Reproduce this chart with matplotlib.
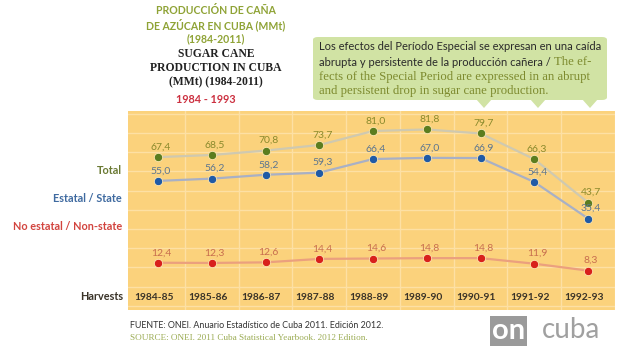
import matplotlib
matplotlib.use("Agg")
import matplotlib.pyplot as plt
from matplotlib.patches import FancyBboxPatch, Polygon
from matplotlib.text import Annotation
import numpy as np

# data (MMt)
harvests = ["1984-85", "1985-86", "1986-87", "1987-88", "1988-89",
            "1989-90", "1990-91", "1991-92", "1992-93"]
total = [67.4, 68.5, 70.8, 73.7, 81.0, 81.8, 79.7, 66.3, 43.7]
estatal = [55.0, 56.2, 58.2, 59.3, 66.4, 67.0, 66.9, 54.4, 35.4]
no_estatal = [12.4, 12.3, 12.6, 14.4, 14.6, 14.8, 14.8, 11.9, 8.3]

series_names = ["Total", "Estatal / State", "No estatal / Non-state"]

W, H = 620, 347
fig = plt.figure(figsize=(W / 100, H / 100), dpi=100)
fig.patch.set_facecolor("white")

sans = "Lato"
serif = "Liberation Serif"

# orange plot area (pixel box 128..615 x 111..310)
ax = fig.add_axes([128 / W, (H - 310) / H, (615 - 128) / W, (310 - 111) / H])
ax.set_facecolor("#fbd27c")
for s in ax.spines.values():
    s.set_visible(False)
ax.set_xlim(-0.56, 8.48)
ax.set_ylim(-12.2, 91.4)
ax.set_yticks(np.arange(-10, 91, 10))
ax.set_xticks(np.arange(len(harvests)) + 0.5)
ax.tick_params(length=0, labelleft=False, labelbottom=False)
ax.grid(True, color="#fde0a4", lw=1.0)
ax.set_axisbelow(True)

x = np.arange(len(harvests))

styles = [
    (total, "#cfc9b0", "#5b7d1f", "#8a8a2c"),
    (estatal, "#a8b0c6", "#1f5aa6", "#5d7690"),
    (no_estatal, "#eba07e", "#d8201c", "#c86e4e"),
]
for vals, lc, mc, tc in styles:
    ax.plot(x, vals, color=lc, lw=1.6, zorder=2)
    ax.plot(x, vals, "o", color=mc, ms=6, mec="#fde6b0", mew=0.6, zorder=3)
    for xi, v in zip(x, vals):
        ax.annotate(f"{v:.1f}".replace(".", ","), (xi, v), xytext=(2, 4),
                    textcoords="offset points", ha="center", va="bottom",
                    fontsize=7.5, color=tc, family=sans, zorder=4)

# category labels inside the orange band
for xi, lab in zip(x, harvests):
    ax.text(xi - 0.08, 0.065, lab, transform=ax.get_xaxis_transform(),
            ha="center", va="center", fontsize=7.4, fontweight="bold",
            color="#3a3328", family=sans)

# left-side labels
fig.text(123 / W, 1 - 297 / H, "Harvests", ha="right", va="center",
         fontsize=7.8, fontweight="bold", color="#3a3328", family=sans)
label_cols = ["#6b7a34", "#3f6aa0", "#d2443e"]
label_y = [171, 199, 227]
for name, c, yy in zip(series_names, label_cols, label_y):
    fig.text(122 / W, 1 - yy / H, name, ha="right", va="center",
             fontsize=7.8, fontweight="bold", color=c, family=sans)

# title
es_lines = ["PRODUCCIÓN DE CAÑA", "DE AZÚCAR EN CUBA (MMt)", "(1984-2011)"]
for i, t in enumerate(es_lines):
    fig.text(216 / W, 1 - (11 + 14 * i) / H, t, ha="center", va="center",
             fontsize=7.6, color="#8fa336", family=sans, fontweight="bold")
en_lines = ["SUGAR CANE", "PRODUCTION IN CUBA", "(MMt) (1984-2011)"]
for i, t in enumerate(en_lines):
    fig.text(216 / W, 1 - (54 + 14 * i) / H, t, ha="center", va="center",
             fontsize=8.4, color="#222222", family=serif, fontweight="bold")
fig.text(206 / W, 1 - 100 / H, "1984 - 1993", ha="center", va="center",
         fontsize=7.8, color="#cc3040", family=sans, fontweight="bold")

# callout box
box_col = "#d1e3a4"
box = FancyBboxPatch((313 / W, 1 - 100 / H), (607 - 313) / W, (100 - 37) / H,
                     boxstyle="round,pad=0,rounding_size=0.008",
                     transform=fig.transFigure, fc=box_col, ec="none")
fig.patches.append(box)
for tx in [484, 538, 590]:
    tri = Polygon([((tx - 8) / W, 1 - 99 / H), ((tx + 8) / W, 1 - 99 / H),
                   (tx / W, 1 - 108 / H)], closed=True,
                  transform=fig.transFigure, fc=box_col, ec="none")
    fig.patches.append(tri)

fig.text(319 / W, 1 - 47 / H,
         "Los efectos del Período Especial se expresan en una caída",
         ha="left", va="center", fontsize=8.0, color="#2a2a2a", family=sans)
t2 = fig.text(319 / W, 1 - 62 / H,
              "abrupta y persistente de la producción cañera / ",
              ha="left", va="center", fontsize=8.0, color="#2a2a2a", family=sans)
fig.add_artist(Annotation("The ef-", xy=(1, 0.5), xycoords=t2, va="center",
                          ha="left", fontsize=9.2, color="#7d8a2e",
                          family=serif))
fig.text(319 / W, 1 - 77 / H,
         "fects of the Special Period are expressed in an abrupt",
         ha="left", va="center", fontsize=9.2, color="#7d8a2e", family=serif)
fig.text(319 / W, 1 - 91 / H,
         "and persistent drop in sugar cane production.",
         ha="left", va="center", fontsize=9.2, color="#7d8a2e", family=serif)

# footer
fig.text(130 / W, 1 - 325 / H,
         "FUENTE: ONEI. Anuario Estadístico de Cuba 2011. Edición 2012.",
         ha="left", va="center", fontsize=6.4, color="#333333", family=sans)
fig.text(130 / W, 1 - 338 / H,
         "SOURCE: ONEI. 2011 Cuba Statistical Yearbook. 2012 Edition.",
         ha="left", va="center", fontsize=6.6, color="#9aab52", family=serif)

# logo
fig.text(492 / W, 1 - 331 / H, "on", ha="left", va="center", fontsize=21,
         color="white", family=sans, fontweight="bold",
         bbox=dict(boxstyle="square,pad=0.08", fc="#9a9a9a", ec="none"))
fig.text(542 / W, 1 - 330 / H, "cuba", ha="left", va="center", fontsize=20,
         color="#a0a0a0", family=sans)

fig.savefig("out.png", dpi=100, facecolor="white")
